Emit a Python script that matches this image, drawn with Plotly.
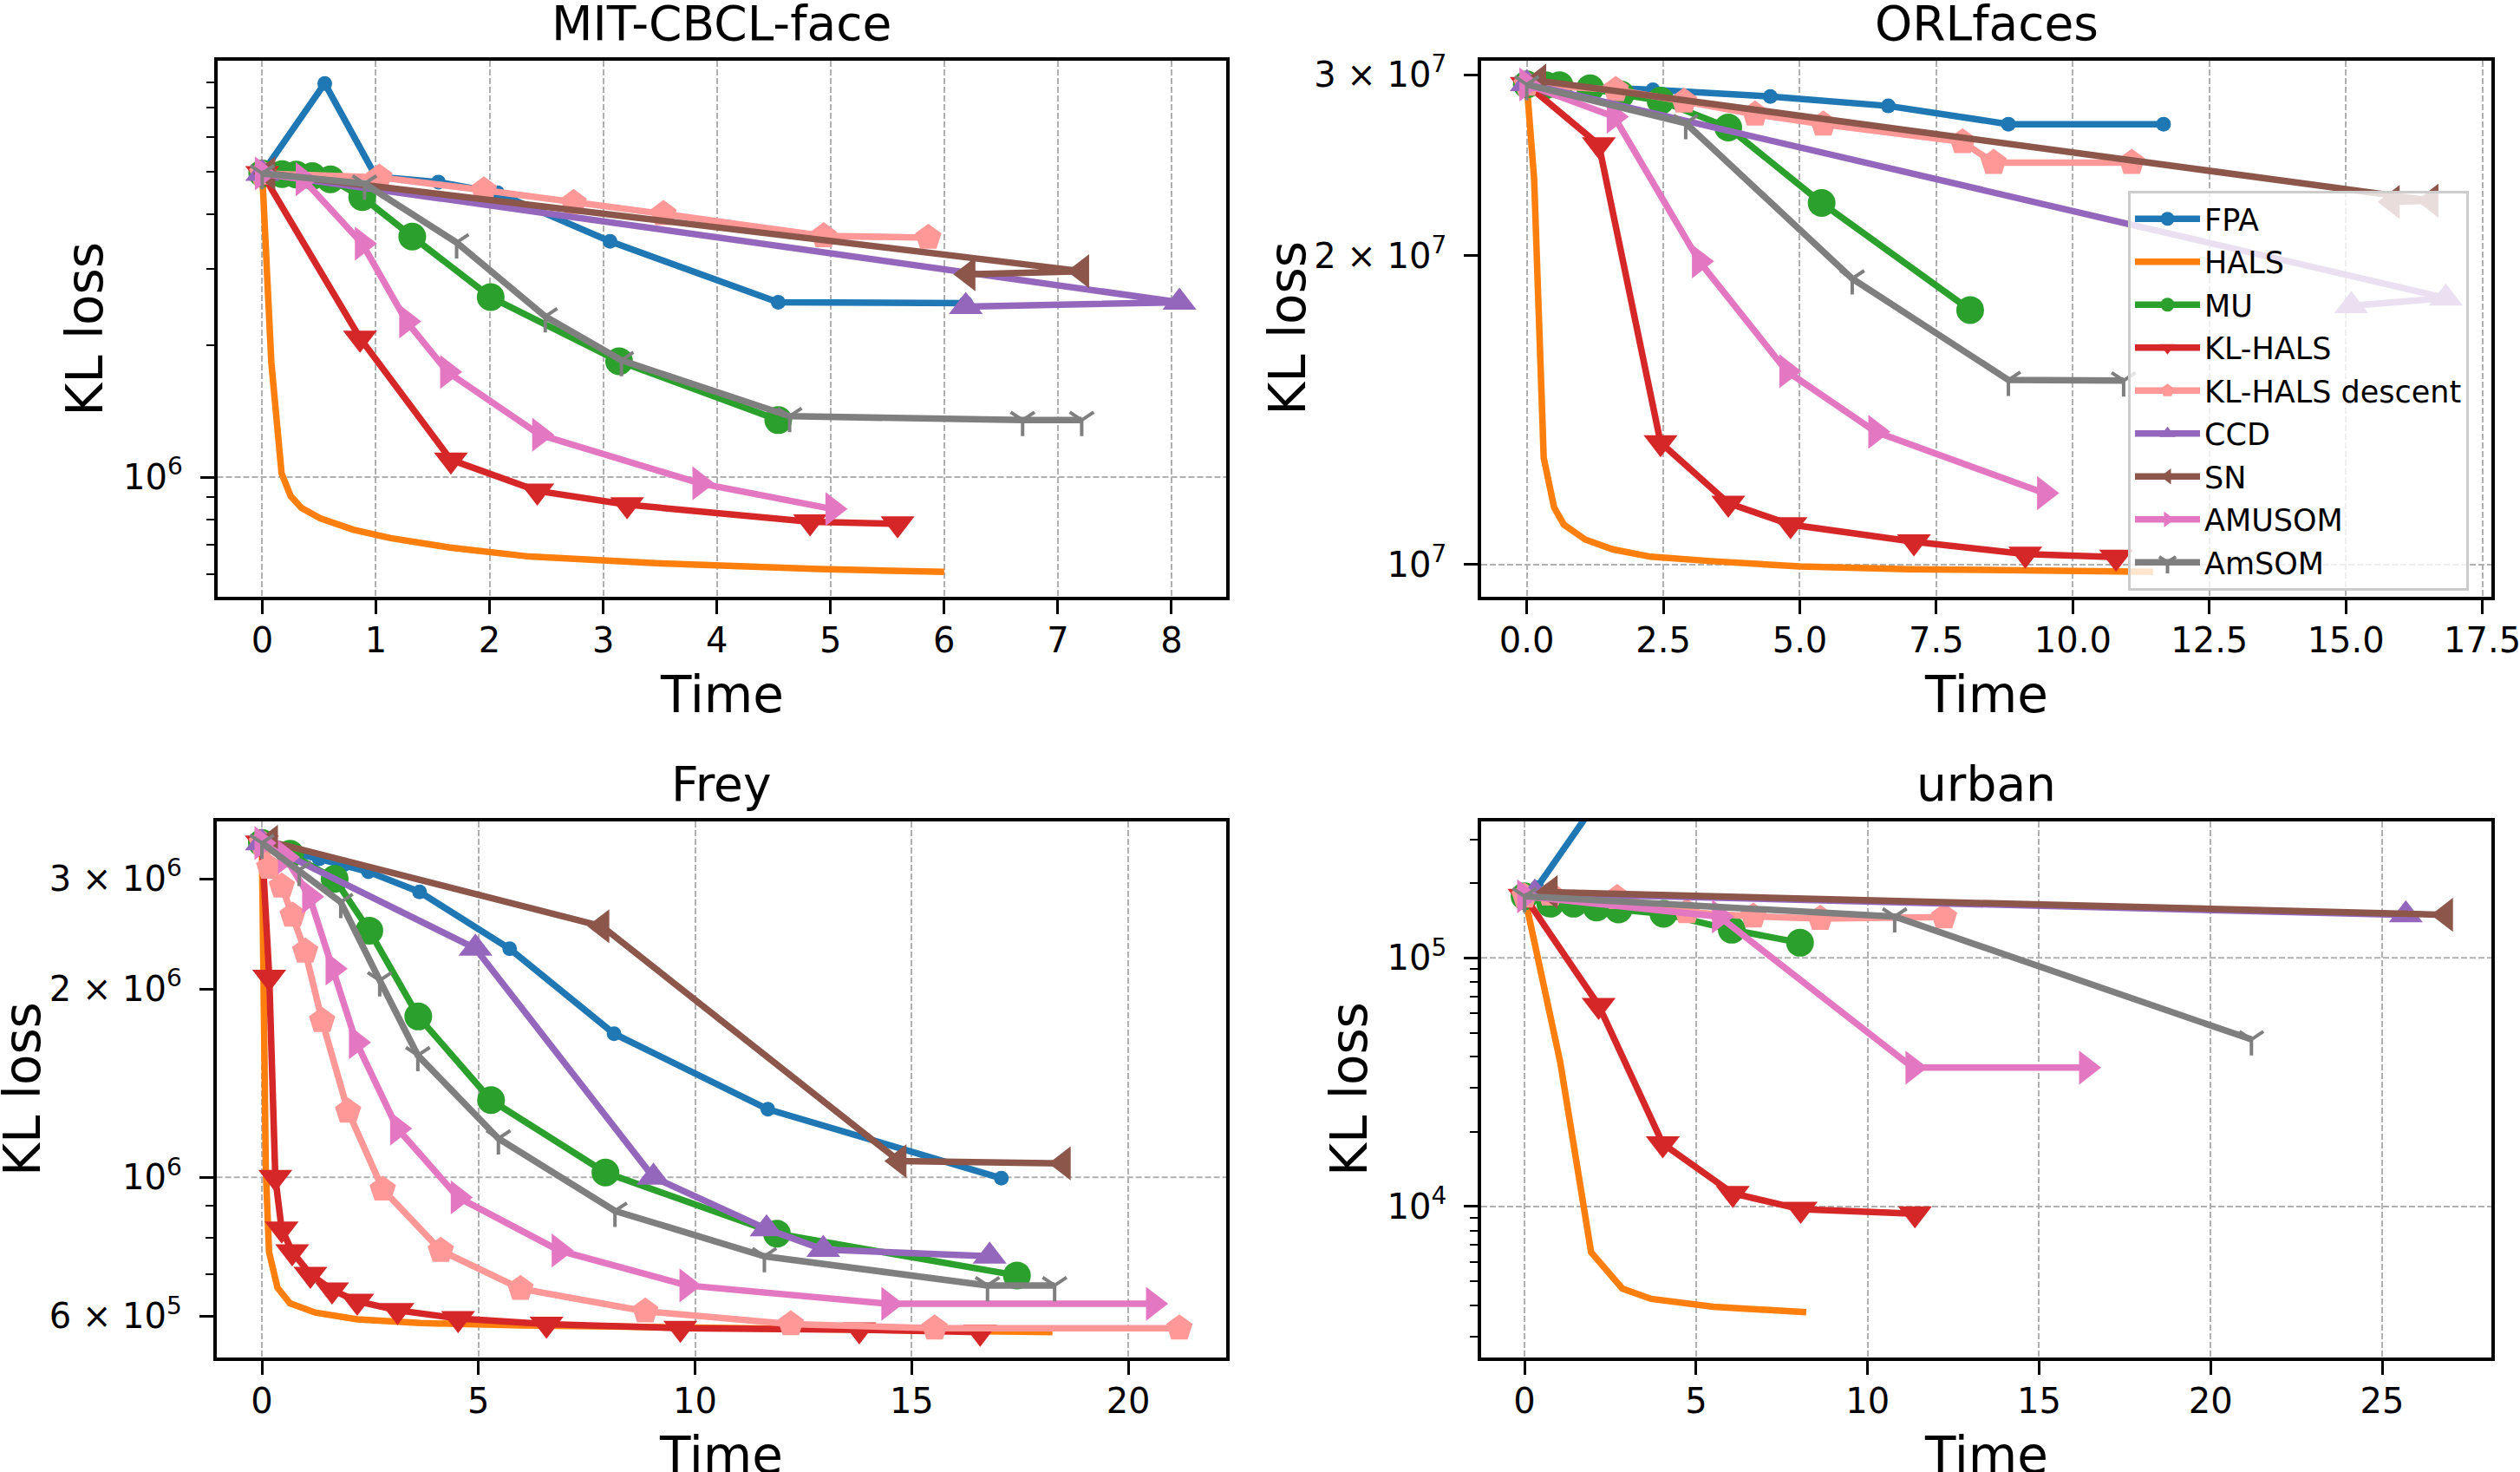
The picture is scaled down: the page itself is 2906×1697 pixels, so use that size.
import math
import plotly.graph_objects as go

# ---------------- data (time, KL loss) ----------------
METHODS = ["FPA", "HALS", "MU", "KL-HALS", "KL-HALS descent", "CCD", "SN", "AMUSOM", "AmSOM"]
PANEL_TITLES = ["MIT-CBCL-face", "ORLfaces", "Frey", "urban"]

# MIT-CBCL-face
mit_fpa_t = [0, 0.55, 1.0, 1.55, 2.07, 3.06, 4.54, 6.19]
mit_fpa_y = [4.95e6, 7.95e6, 4.87e6, 4.73e6, 4.47e6, 3.46e6, 2.51e6, 2.50e6]
mit_hals_t = [0, 0.08, 0.17, 0.25, 0.345, 0.51, 0.8, 1.13, 1.65, 2.35, 3.5, 4.9, 6.0]
mit_hals_y = [4.95e6, 1.83e6, 1.02e6, 9.05e5, 8.5e5, 8.05e5, 7.58e5, 7.25e5, 6.9e5, 6.58e5, 6.35e5, 6.16e5, 6.07e5]
mit_mu_t = [0, 0.175, 0.30, 0.44, 0.6, 0.88, 1.32, 2.01, 3.14, 4.54]
mit_mu_y = [4.95e6, 4.93e6, 4.92e6, 4.88e6, 4.8e6, 4.37e6, 3.55e6, 2.58e6, 1.84e6, 1.35e6]
mit_klhals_t = [0, 0.86, 1.66, 2.42, 3.21, 4.82, 5.59]
mit_klhals_y = [4.95e6, 2.08e6, 1.095e6, 9.3e5, 8.65e5, 7.9e5, 7.82e5]
mit_kldesc_t = [0, 1.03, 1.95, 2.74, 3.53, 4.94, 5.86]
mit_kldesc_y = [4.95e6, 4.85e6, 4.53e6, 4.24e6, 4.0e6, 3.56e6, 3.53e6]
mit_ccd_t = [0, 8.07, 6.19]
mit_ccd_y = [4.95e6, 2.51e6, 2.455e6]
mit_sn_t = [0.05, 7.21, 6.21]
mit_sn_y = [4.95e6, 2.958e6, 2.91e6]
mit_amusom_t = [0, 0.36, 0.88, 1.27, 1.63, 2.44, 3.85, 5.02]
mit_amusom_y = [4.95e6, 4.8e6, 3.42e6, 2.27e6, 1.74e6, 1.25e6, 9.68e5, 8.45e5]
mit_amsom_t = [0, 0.9, 1.71, 2.49, 3.16, 4.64, 6.69, 7.21]
mit_amsom_y = [4.95e6, 4.69e6, 3.44e6, 2.33e6, 1.85e6, 1.378e6, 1.35e6, 1.35e6]

# ORLfaces
orl_fpa_t = [0, 2.31, 4.46, 6.62, 8.82, 11.66]
orl_fpa_y = [2.935e7, 2.90e7, 2.857e7, 2.797e7, 2.685e7, 2.685e7]
orl_hals_t = [0, 0.135, 0.31, 0.5, 0.68, 1.07, 1.57, 2.27, 3.37, 5.0, 7.0, 9.3, 11.47]
orl_hals_y = [2.935e7, 2.373e7, 1.271e7, 1.137e7, 1.094e7, 1.058e7, 1.035e7, 1.018e7, 1.008e7, 9.96e6, 9.90e6, 9.87e6, 9.84e6]
orl_mu_t = [0, 0.35, 0.6, 1.16, 1.72, 2.45, 3.69, 5.4, 8.12]
orl_mu_y = [2.935e7, 2.93e7, 2.93e7, 2.91e7, 2.87e7, 2.83e7, 2.665e7, 2.25e7, 1.77e7]
orl_klhals_t = [0, 1.32, 2.45, 3.69, 4.83, 7.09, 9.13, 10.79]
orl_klhals_y = [2.935e7, 2.564e7, 1.315e7, 1.148e7, 1.094e7, 1.053e7, 1.024e7, 1.017e7]
orl_kldesc_t = [0, 1.63, 2.88, 4.18, 5.43, 7.98, 8.55, 11.08]
orl_kldesc_y = [2.935e7, 2.90e7, 2.826e7, 2.745e7, 2.684e7, 2.58e7, 2.463e7, 2.463e7]
orl_ccd_t = [0, 16.83, 15.1]
orl_ccd_y = [2.94e7, 1.818e7, 1.787e7]
orl_sn_t = [0.22, 16.56, 15.85]
orl_sn_y = [2.96e7, 2.262e7, 2.255e7]
orl_amusom_t = [0, 1.6, 3.16, 4.76, 6.39, 9.48]
orl_amusom_y = [2.935e7, 2.73e7, 1.974e7, 1.543e7, 1.347e7, 1.174e7]
orl_amsom_t = [0, 2.91, 5.96, 8.82, 10.93]
orl_amsom_y = [2.935e7, 2.691e7, 1.899e7, 1.513e7, 1.511e7]

# Frey
frey_fpa_t = [0, 0.71, 1.32, 1.89, 2.46, 3.64, 5.72, 8.13, 11.68, 17.07]
frey_fpa_y = [3.425e6, 3.30e6, 3.23e6, 3.16e6, 3.08e6, 2.86e6, 2.32e6, 1.697e6, 1.285e6, 9.97e5]
frey_hals_t = [0, 0.05, 0.09, 0.165, 0.36, 0.65, 1.23, 2.2, 3.66, 6.0, 9.17, 13.0, 18.25]
frey_hals_y = [3.425e6, 2.0e6, 1.03e6, 7.6e5, 6.66e5, 6.29e5, 6.08e5, 5.93e5, 5.85e5, 5.8e5, 5.76e5, 5.71e5, 5.66e5]
frey_mu_t = [0, 0.65, 1.68, 2.48, 3.61, 5.29, 7.93, 11.89, 17.43]
frey_mu_y = [3.425e6, 3.29e6, 3.0e6, 2.48e6, 1.808e6, 1.329e6, 1.018e6, 8.13e5, 6.97e5]
frey_klhals_t = [0, 0.17, 0.31, 0.456, 0.70, 1.12, 1.62, 2.2, 3.13, 4.53, 6.57, 9.66, 13.79, 16.58]
frey_klhals_y = [3.425e6, 2.09e6, 1.0e6, 8.27e5, 7.61e5, 7.0e5, 6.61e5, 6.34e5, 6.13e5, 5.95e5, 5.83e5, 5.74e5, 5.71e5, 5.66e5]
frey_kldesc_t = [0, 0.17, 0.46, 0.71, 1.0, 1.39, 1.99, 2.79, 4.13, 5.97, 8.85, 12.21, 15.53, 21.18]
frey_kldesc_y = [3.425e6, 3.13e6, 2.92e6, 2.624e6, 2.298e6, 1.78e6, 1.275e6, 9.57e5, 7.64e5, 6.64e5, 6.11e5, 5.83e5, 5.74e5, 5.74e5]
frey_ccd_t = [0, 4.93, 9.04, 11.65, 12.96, 16.8]
frey_ccd_y = [3.425e6, 2.323e6, 1.0e6, 8.27e5, 7.67e5, 7.48e5]
frey_sn_t = [0.2, 7.85, 14.71, 18.5]
frey_sn_y = [3.44e6, 2.52e6, 1.062e6, 1.053e6]
frey_amusom_t = [0, 0.54, 1.1, 1.64, 2.18, 3.13, 4.53, 6.86, 9.81, 14.47, 20.58]
frey_amusom_y = [3.425e6, 3.25e6, 2.81e6, 2.156e6, 1.644e6, 1.197e6, 9.29e5, 7.64e5, 6.72e5, 6.28e5, 6.28e5]
frey_amsom_t = [0, 0.86, 1.82, 2.72, 3.6, 5.46, 8.15, 11.6, 16.75, 18.3]
frey_amsom_y = [3.425e6, 3.1e6, 2.754e6, 2.065e6, 1.567e6, 1.154e6, 8.84e5, 7.48e5, 6.72e5, 6.72e5]

# urban
urb_fpa_t = [0, 0.36, 2.5]
urb_fpa_y = [1.77e5, 1.92e5, 5.1e5]
urb_hals_t = [0, 1.04, 1.94, 2.85, 3.69, 5.5, 8.21]
urb_hals_y = [1.77e5, 3.81e4, 6.55e3, 4.68e3, 4.25e3, 3.95e3, 3.76e3]
urb_mu_t = [0, 0.75, 1.43, 2.1, 2.74, 4.05, 6.04, 8.03]
urb_mu_y = [1.77e5, 1.652e5, 1.652e5, 1.596e5, 1.567e5, 1.505e5, 1.298e5, 1.151e5]
urb_klhals_t = [0, 2.16, 4.03, 6.07, 8.05, 11.38]
urb_klhals_y = [1.77e5, 6.45e4, 1.79e4, 1.13e4, 9.75e3, 9.36e3]
urb_kldesc_t = [0, 0.75, 2.7, 4.73, 6.67, 8.62, 12.23]
urb_kldesc_y = [1.77e5, 1.8e5, 1.744e5, 1.53e5, 1.47e5, 1.44e5, 1.46e5]
urb_ccd_t = [0.3, 25.69]
urb_ccd_y = [1.82e5, 1.49e5]
urb_sn_t = [0.75, 26.85]
urb_sn_y = [1.84e5, 1.49e5]
urb_amusom_t = [0, 5.68, 11.32, 16.38]
urb_amusom_y = [1.77e5, 1.466e5, 3.62e4, 3.62e4]
urb_amsom_t = [0, 10.79, 21.19]
urb_amsom_y = [1.77e5, 1.466e5, 4.7e4]

# y tick labels (labelled ticks) and y grid positions
mit_ytick_vals = [1e6]
mit_ytick_text = ["10<sup>6</sup>"]
orl_ytick_vals = [1e7, 2e7, 3e7]
orl_ytick_text = ["10<sup>7</sup>", "2 × 10<sup>7</sup>", "3 × 10<sup>7</sup>"]
frey_ytick_vals = [6e5, 1e6, 2e6, 3e6]
frey_ytick_text = ["6 × 10<sup>5</sup>", "10<sup>6</sup>", "2 × 10<sup>6</sup>", "3 × 10<sup>6</sup>"]
urb_ytick_vals = [1e4, 1e5]
urb_ytick_text = ["10<sup>4</sup>", "10<sup>5</sup>"]

mit_ygrid = [1e6]
orl_ygrid = [1e7]
frey_ygrid = [1e6]
urb_ygrid = [1e4, 1e5]

# unlabelled minor ticks
mit_yminor = [6e5, 7e5, 8e5, 9e5, 2e6, 3e6, 4e6, 5e6, 6e6, 7e6, 8e6]
orl_yminor = []
frey_yminor = [7e5, 8e5, 9e5]
urb_yminor = [3e3, 4e3, 5e3, 6e3, 7e3, 8e3, 9e3, 2e4, 3e4, 4e4, 5e4, 6e4, 7e4, 8e4, 9e4, 2e5, 3e5]

DATA = {
    "MIT-CBCL-face": [(mit_fpa_t, mit_fpa_y), (mit_hals_t, mit_hals_y), (mit_mu_t, mit_mu_y),
                      (mit_klhals_t, mit_klhals_y), (mit_kldesc_t, mit_kldesc_y), (mit_ccd_t, mit_ccd_y),
                      (mit_sn_t, mit_sn_y), (mit_amusom_t, mit_amusom_y), (mit_amsom_t, mit_amsom_y)],
    "ORLfaces": [(orl_fpa_t, orl_fpa_y), (orl_hals_t, orl_hals_y), (orl_mu_t, orl_mu_y),
                 (orl_klhals_t, orl_klhals_y), (orl_kldesc_t, orl_kldesc_y), (orl_ccd_t, orl_ccd_y),
                 (orl_sn_t, orl_sn_y), (orl_amusom_t, orl_amusom_y), (orl_amsom_t, orl_amsom_y)],
    "Frey": [(frey_fpa_t, frey_fpa_y), (frey_hals_t, frey_hals_y), (frey_mu_t, frey_mu_y),
             (frey_klhals_t, frey_klhals_y), (frey_kldesc_t, frey_kldesc_y), (frey_ccd_t, frey_ccd_y),
             (frey_sn_t, frey_sn_y), (frey_amusom_t, frey_amusom_y), (frey_amsom_t, frey_amsom_y)],
    "urban": [(urb_fpa_t, urb_fpa_y), (urb_hals_t, urb_hals_y), (urb_mu_t, urb_mu_y),
              (urb_klhals_t, urb_klhals_y), (urb_kldesc_t, urb_kldesc_y), (urb_ccd_t, urb_ccd_y),
              (urb_sn_t, urb_sn_y), (urb_amusom_t, urb_amusom_y), (urb_amsom_t, urb_amsom_y)],
}

# ---------------- styles ----------------
W, H = 2906, 1697
FONT = "DejaVu Sans"
STYLE = {
    "FPA": dict(color="#1f77b4", symbol="circle", size=17),
    "HALS": dict(color="#ff7f0e", symbol=None, size=0),
    "MU": dict(color="#2ca02c", symbol="circle", size=32),
    "KL-HALS": dict(color="#d62728", symbol="triangle-down", size=34),
    "KL-HALS descent": dict(color="#ff9896", symbol="pentagon", size=32),
    "CCD": dict(color="#9467bd", symbol="triangle-up", size=34),
    "SN": dict(color="#8c564b", symbol="triangle-left", size=34),
    "AMUSOM": dict(color="#e377c2", symbol="triangle-right", size=34),
    "AmSOM": dict(color="#7f7f7f", symbol="y-down", size=23),
}
LINE_W = 7.5
GRID_COLOR = "#b0b0b0"
GRID_DASH = "7px,3px"


def fx(p):
    return p / W


def fy(p):
    return 1 - p / H


PANELS = [
    dict(title="MIT-CBCL-face", xa="x", ya="y", xd=(250.5, 1414), yd=(69.9, 687.8),
         xr=[-0.396, 8.481], yr=[5.7266, 6.9526], dtick=1, fmt="d",
         tv=mit_ytick_vals, tt=mit_ytick_text, minor=mit_yminor, grid=mit_ygrid, ylab_x=98),
    dict(title="ORLfaces", xa="x2", ya="y2", xd=(1708, 2873.2), yd=(69.9, 687.8),
         xr=[-0.836, 17.668], yr=[6.9689, 7.4908], dtick=2.5, fmt=".1f",
         tv=orl_ytick_vals, tt=orl_ytick_text, minor=orl_yminor, grid=orl_ygrid, ylab_x=1485),
    dict(title="Frey", xa="x3", ya="y3", xd=(249.6, 1414), yd=(946.7, 1565.3),
         xr=[-1.049, 22.26], yr=[5.7117, 6.5694], dtick=5, fmt="d",
         tv=frey_ytick_vals, tt=frey_ytick_text, minor=frey_yminor, grid=frey_ygrid, ylab_x=26),
    dict(title="urban", xa="x4", ya="y4", xd=(1708, 2873.2), yd=(946.7, 1565.3),
         xr=[-1.266, 28.19], yr=[3.3916, 5.550], dtick=5, fmt="d",
         tv=urb_ytick_vals, tt=urb_ytick_text, minor=urb_yminor, grid=urb_ygrid, ylab_x=1556),
]

fig = go.Figure()
layout = dict(
    width=W, height=H, margin=dict(l=0, r=0, t=0, b=0, autoexpand=False),
    paper_bgcolor="white", plot_bgcolor="white",
    font=dict(family=FONT, color="black"),
    showlegend=True,
    legend=dict(x=fx(2454), y=fy(220), xanchor="left", yanchor="top",
                bgcolor="rgba(255,255,255,0.8)", bordercolor="#cccccc", borderwidth=3,
                font=dict(family=FONT, size=35, color="black"), itemwidth=75,
                traceorder="grouped", tracegroupgap=1),
)
annotations = []
shapes = []

for pi, P in enumerate(PANELS):
    xkey = "xaxis" + P["xa"][1:]
    ykey = "yaxis" + P["ya"][1:]
    layout[xkey] = dict(
        domain=[fx(P["xd"][0]), fx(P["xd"][1])], anchor=P["ya"], range=P["xr"],
        automargin=False,
        tickmode="linear", tick0=0, dtick=P["dtick"], tickformat=P["fmt"],
        ticks="outside", ticklen=16, tickwidth=3, tickcolor="black",
        tickfont=dict(family=FONT, size=40, color="black"), ticklabelstandoff=-4,
        ticklabeloverflow="allow",
        showline=True, linecolor="black", linewidth=3.5, mirror=True, zeroline=False,
        showgrid=True, gridcolor=GRID_COLOR, gridwidth=2, griddash=GRID_DASH)
    ymin = dict(tickmode="array", tickvals=P["minor"], ticks="outside", ticklen=9,
                tickwidth=2, tickcolor="black", showgrid=False)
    layout[ykey] = dict(
        domain=[fy(P["yd"][1]), fy(P["yd"][0])], anchor=P["xa"], type="log", range=P["yr"],
        automargin=False,
        tickmode="array", tickvals=P["tv"], ticktext=P["tt"],
        ticks="outside", ticklen=16, tickwidth=3, tickcolor="black",
        tickfont=dict(family=FONT, size=40, color="black"), ticklabelstandoff=12,
        showline=True, linecolor="black", linewidth=3.5, mirror=True, zeroline=False,
        showgrid=False, minor=ymin)
    # horizontal grid lines at the decades
    for g in P["grid"]:
        frac = (math.log10(g) - P["yr"][0]) / (P["yr"][1] - P["yr"][0])
        shapes.append(dict(type="line", xref=P["xa"] + " domain", yref=P["ya"] + " domain",
                           x0=0, x1=1, y0=frac, y1=frac, layer="below",
                           line=dict(color=GRID_COLOR, width=2, dash=GRID_DASH)))

    for mi, m in enumerate(METHODS):
        t, y = DATA[P["title"]][mi]
        st = STYLE[m]
        kw = dict(x=t, y=y, name=m, legendgroup=m, showlegend=(P["title"] == "ORLfaces"),
                  xaxis=P["xa"], yaxis=P["ya"],
                  line=dict(color=st["color"], width=LINE_W))
        if st["symbol"] is None:
            kw["mode"] = "lines"
        else:
            kw["mode"] = "lines+markers"
            if st["symbol"] == "y-down":
                kw["marker"] = dict(symbol="y-down", size=st["size"], color=st["color"],
                                    line=dict(color=st["color"], width=4))
            else:
                kw["marker"] = dict(symbol=st["symbol"], size=st["size"], color=st["color"],
                                    line=dict(width=0))
        fig.add_trace(go.Scatter(**kw))

    cx = fx((P["xd"][0] + P["xd"][1]) / 2)
    annotations.append(dict(text=P["title"], x=cx, y=fy(P["yd"][0]), xref="paper", yref="paper",
                            xanchor="center", yanchor="bottom", yshift=9, showarrow=False,
                            font=dict(family=FONT, size=55, color="black")))
    annotations.append(dict(text="Time", x=cx, y=fy(P["yd"][1]), xref="paper", yref="paper",
                            xanchor="center", yanchor="top", yshift=-77, showarrow=False,
                            font=dict(family=FONT, size=58, color="black")))
    annotations.append(dict(text="KL loss", x=fx(P["ylab_x"]), y=fy((P["yd"][0] + P["yd"][1]) / 2),
                            xref="paper", yref="paper", xanchor="center", yanchor="middle",
                            textangle=-90, showarrow=False,
                            font=dict(family=FONT, size=58, color="black")))

layout["annotations"] = annotations
layout["shapes"] = shapes
fig.update_layout(**layout)
fig.write_html("out.html")
